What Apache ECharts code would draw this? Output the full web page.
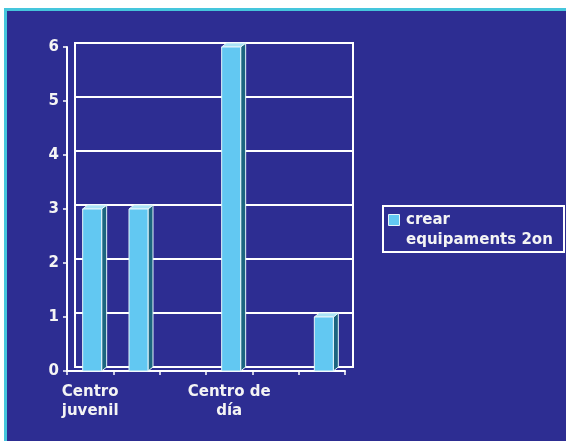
<!DOCTYPE html>
<html>
<head>
<meta charset="utf-8">
<script src="https://cdn.jsdelivr.net/npm/echarts@6/dist/echarts.min.js"></script>
<style>
  html, body { margin: 0; padding: 0; background: #ffffff; }
  #frame {
    position: absolute; left: 4px; top: 8px; width: 562px; height: 433px;
    box-sizing: border-box; background: #2d2d92;
    border-left: 3px solid #45c6dc; border-top: 3px solid #45c6dc;
  }
  #main { position: absolute; left: 0; top: 0; width: 566px; height: 441px; }
</style>
</head>
<body>
<div id="frame"></div>
<div id="main"></div>
<script>
// categories (only two are labelled in the picture)
const categories = ['Centro\njuvenil', '', '', 'Centro de\ndía', '', ''];
const values = [3, 3, 0, 6, 0, 1];
const seriesName = 'crear\nequipaments 2on';
const yTicks = [0, 1, 2, 3, 4, 5, 6];

const textColor = '#f4f4f4';
const font = 'DejaVu Sans';

// 3d-ish bar: front face, side, top
function renderBar(params, api) {
    let top = api.coord([api.value(0), api.value(1)]);
    let base = api.coord([api.value(0), 0]);
    let h = base[1] - top[1];
    if (h <= 0) return;
    let w = api.size([1, 0])[0] * 0.41;
    let x = top[0] - w / 2 + 2;
    let dx = 5, dy = 4;
    let edge = '#e6f6fb';
    return {
        type: 'group',
        children: [
            {
                type: 'polygon',
                shape: { points: [[x + w, top[1]], [x + w + dx, top[1] - dy], [x + w + dx, base[1] - dy], [x + w, base[1]]] },
                style: { fill: '#1c6580', stroke: edge, lineWidth: 1 }
            },
            {
                type: 'polygon',
                shape: { points: [[x, top[1]], [x + dx, top[1] - dy], [x + w + dx, top[1] - dy], [x + w, top[1]]] },
                style: { fill: '#a9e3f6', stroke: edge, lineWidth: 1 }
            },
            {
                type: 'rect',
                shape: { x: x, y: top[1], width: w, height: h },
                style: { fill: '#62c8f2', stroke: edge, lineWidth: 1 }
            }
        ]
    };
}

const chart = echarts.init(document.getElementById('main'));
chart.setOption({
    animation: false,
    grid: [
        // front plane
        { left: 67, right: 221, top: 47, bottom: 70 },
        // back wall
        { left: 75, right: 213, top: 43, bottom: 74, show: true, borderColor: '#ffffff', borderWidth: 2 }
    ],
    xAxis: [
        {
            type: 'category', gridIndex: 0, data: categories,
            axisLine: { lineStyle: { color: '#ffffff', width: 2 } },
            axisTick: { show: true, length: 4, lineStyle: { color: '#ffffff', width: 1.5 } },
            axisLabel: {
                interval: 0, color: textColor, fontFamily: font, fontWeight: 'bold',
                fontSize: 15, lineHeight: 19, margin: 12
            }
        },
        { type: 'category', gridIndex: 1, data: categories, show: false }
    ],
    yAxis: [
        {
            type: 'value', gridIndex: 0, min: yTicks[0], max: yTicks[yTicks.length - 1], interval: 1,
            axisLine: { show: true, lineStyle: { color: '#ffffff', width: 2 } },
            axisTick: { show: true, length: 4, lineStyle: { color: '#ffffff', width: 1.5 } },
            splitLine: { show: false },
            axisLabel: { color: textColor, fontFamily: font, fontWeight: 'bold', fontSize: 15, margin: 8 }
        },
        {
            type: 'value', gridIndex: 1, min: yTicks[0], max: yTicks[yTicks.length - 1], interval: 1,
            axisLine: { show: false }, axisTick: { show: false }, axisLabel: { show: false },
            splitLine: { show: true, lineStyle: { color: '#ffffff', width: 2 } }
        }
    ],
    series: [{
        name: seriesName,
        type: 'custom',
        xAxisIndex: 0, yAxisIndex: 0,
        renderItem: renderBar,
        data: values.map((v, i) => [i, v]),
        z: 5
    }],
    graphic: [
        // legend box
        { type: 'rect', left: 382, top: 205, shape: { width: 181, height: 46 },
          style: { fill: 'transparent', stroke: '#ffffff', lineWidth: 2 } },
        { type: 'rect', left: 388, top: 214, shape: { width: 11, height: 11 },
          style: { fill: '#62c8f2', stroke: '#e6f6fb', lineWidth: 1 } },
        { type: 'text', left: 406, top: 210,
          style: { text: seriesName, fill: textColor, font: 'bold 15px "DejaVu Sans"', lineHeight: 20 } }
    ]
});
</script>
</body>
</html>
